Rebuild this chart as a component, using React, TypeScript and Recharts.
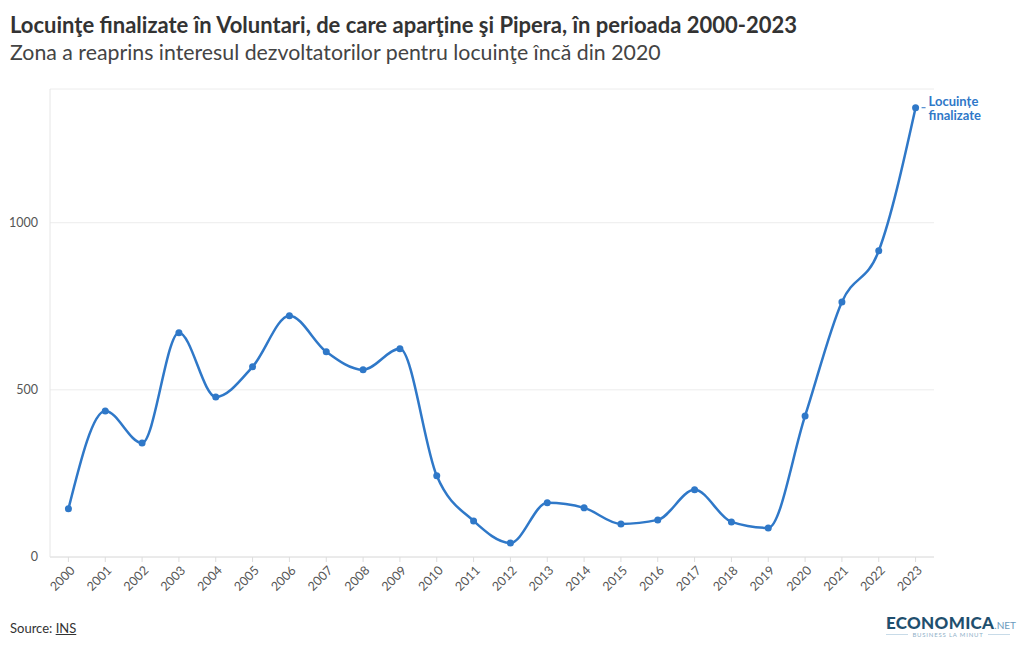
import {LineChart, Line, XAxis, YAxis, CartesianGrid} from 'recharts';

const years = ['2000', '2001', '2002', '2003', '2004', '2005', '2006', '2007', '2008', '2009', '2010', '2011',
    '2012', '2013', '2014', '2015', '2016', '2017', '2018', '2019', '2020', '2021', '2022', '2023'];
const locuinte = [144, 437, 341, 671, 479, 569, 722, 614, 560, 623, 243, 108,
    42, 162, 147, 99, 111, 201, 105, 87, 422, 763, 916, 1344];
const yTicks = [0, 500, 1000];

const seriesName = ['Locuințe', 'finalizate'];
const blue = '#2f78c8';
const font = 'Lato, "Noto Sans", sans-serif';

const data = years.map((y, i) => ({year: y, v: locuinte[i]}));

function YearTick({x, y, payload}: any) {
    return (
        <g>
            <line x1={x} x2={x} y1={y - 8} y2={y - 3} stroke="#ddd"/>
            <text x={x + 5} y={y + 4} transform={`rotate(-45, ${x + 5}, ${y + 4})`} textAnchor="end"
                  fontSize={12.5} fill="#555" fontFamily={font} dominantBaseline="middle">
                {payload.value}
            </text>
        </g>
    );
}

function EndLabel({x, y, index}: any) {
    if (index !== years.length - 1) return null;
    return (
        <g>
            <line x1={x + 6} x2={x + 10} y1={y} y2={y} stroke={blue} strokeWidth={1}/>
            <text x={x + 13} y={y - 2} fontSize={13} fontWeight={700} fill={blue} fontFamily={font}>
                {seriesName[0]}
            </text>
            <text x={x + 13} y={y + 12} fontSize={13} fontWeight={700} fill={blue} fontFamily={font}>
                {seriesName[1]}
            </text>
        </g>
    );
}

export default function App() {
    return (
        <div style={{position: 'absolute', left: 0, top: 0, width: 1020, height: 650, background: '#fff', fontFamily: font}}>
            <div style={{position: 'absolute', left: 10, top: 11, fontSize: 22, fontWeight: 700, color: '#333', whiteSpace: 'nowrap'}}>
                Locuinţe finalizate în Voluntari, de care aparţine şi Pipera, în perioada 2000-2023
            </div>
            <div style={{position: 'absolute', left: 10, top: 39, fontSize: 21.3, color: '#444', whiteSpace: 'nowrap'}}>
                Zona a reaprins interesul dezvoltatorilor pentru locuinţe încă din 2020
            </div>
            <div style={{position: 'absolute', left: 0, top: 0}}>
                <LineChart width={1020} height={650} data={data}
                           margin={{top: 89, right: 86, left: 0, bottom: 53}}>
                    <CartesianGrid horizontal vertical={false} stroke="#ececec"/>
                    <XAxis dataKey="year" scale="band" tick={<YearTick/>} tickLine={false} height={40}
                           axisLine={{stroke: '#e0e0e0'}} interval={0}/>
                    <YAxis domain={[0, 1400]} ticks={yTicks} width={50} tickLine={false}
                           axisLine={{stroke: '#e6e6e6'}} tickMargin={6}
                           tick={{fontSize: 12.5, fill: '#555', fontFamily: font}}/>
                    <Line type="monotone" dataKey="v" stroke={blue} strokeWidth={2.5}
                          dot={{r: 3.5, fill: blue, stroke: blue, strokeWidth: 0}} activeDot={false}
                          isAnimationActive={false} label={<EndLabel/>}/>
                </LineChart>
            </div>
            <div style={{position: 'absolute', left: 10, top: 620, fontSize: 13, color: '#333'}}>
                Source: <span style={{textDecoration: 'underline'}}>INS</span>
            </div>
            <div style={{position: 'absolute', left: 886, top: 612, width: 124, textAlign: 'center'}}>
                <div style={{whiteSpace: 'nowrap'}}>
                    <span style={{fontSize: 17, fontWeight: 900, color: '#1f4f6e', letterSpacing: 0.3}}>ECONOMICA</span>
                    <span style={{fontSize: 10, color: '#6b9bbd'}}>.NET</span>
                </div>
                <div style={{display: 'flex', alignItems: 'center', gap: 4, marginTop: -2}}>
                    <div style={{flex: 1, height: 1, background: '#c8dbe8'}}/>
                    <span style={{fontSize: 6, color: '#8fb0c8', letterSpacing: 0.8}}>BUSINESS LA MINUT</span>
                    <div style={{flex: 1, height: 1, background: '#c8dbe8'}}/>
                </div>
            </div>
        </div>
    );
}
